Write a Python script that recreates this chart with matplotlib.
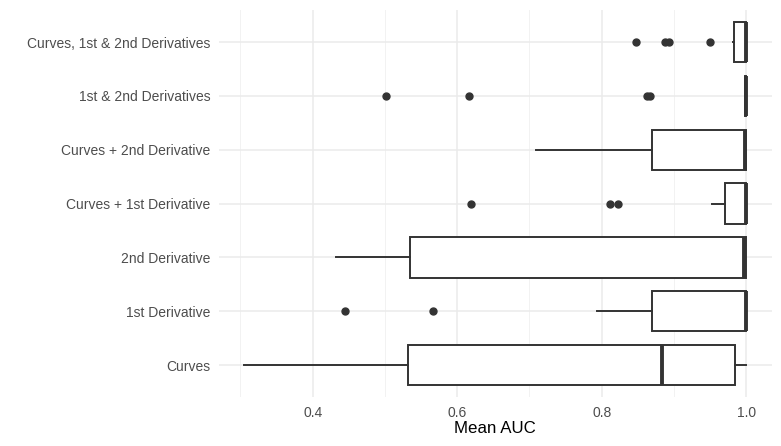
import matplotlib.pyplot as plt
import numpy as np

plt.rcParams['font.family'] = ['Liberation Sans', 'DejaVu Sans']

# categories bottom -> top
groups = ['Curves', '1st Derivative', '2nd Derivative', 'Curves + 1st Derivative',
          'Curves + 2nd Derivative', '1st & 2nd Derivatives', 'Curves, 1st & 2nd Derivatives']

# boxplot stats
whis_lo = [0.305, 0.793, 0.433, 0.952, 0.709, 0.998, 0.982]
q1 = [0.532, 0.869, 0.534, 0.971, 0.869, 0.998, 0.983]
medians = [0.884, 0.999, 0.997, 0.999, 0.998, 0.999, 0.999]
q3 = [0.984, 1.0, 1.0, 1.0, 1.0, 1.0, 1.0]
whis_hi = [1.0, 1.0, 1.0, 1.0, 1.0, 1.0, 1.0]
outliers = [
    [],
    [0.445, 0.567],
    [],
    [0.619, 0.812, 0.822],
    [],
    [0.502, 0.617, 0.862, 0.867],
    [0.848, 0.888, 0.893, 0.950],
]

xticks = [0.4, 0.6, 0.8, 1.0]
xminor = [0.3, 0.5, 0.7, 0.9]

stats = []
for i, g in enumerate(groups):
    stats.append(dict(label=g, whislo=whis_lo[i], q1=q1[i], med=medians[i],
                      q3=q3[i], whishi=whis_hi[i], fliers=outliers[i]))

fig = plt.figure(figsize=(7.81, 4.46), dpi=100)
ax = fig.add_axes([0.280, 0.109, 0.708, 0.869])

edge = '#333333'
pos = np.arange(1, len(groups) + 1)
ax.bxp(stats, positions=pos, widths=0.75, orientation='horizontal',
       showcaps=False, patch_artist=True,
       boxprops=dict(facecolor='white', edgecolor=edge, linewidth=1.4),
       whiskerprops=dict(color=edge, linewidth=1.4),
       medianprops=dict(color=edge, linewidth=2.8, solid_capstyle='butt'),
       flierprops=dict(marker='o', markersize=5, markerfacecolor=edge,
                       markeredgecolor=edge, linestyle='none'),
       zorder=3)

ax.set_xlim(0.270, 1.035)
ax.set_ylim(0.4, len(groups) + 0.6)

ax.set_xticks(xticks)
ax.set_xticklabels([f'{t:.1f}' for t in xticks])
ax.set_xticks(xminor, minor=True)
ax.set_yticks(pos)
ax.set_yticklabels(groups)

ax.grid(True, which='major', color='#EBEBEB', linewidth=1.1, zorder=0)
ax.grid(True, which='minor', axis='x', color='#F2F2F2', linewidth=0.7, zorder=0)
ax.set_axisbelow(True)

for s in ax.spines.values():
    s.set_visible(False)
ax.tick_params(which='both', length=0)
ax.tick_params(axis='x', pad=6, labelsize=10, labelcolor='#4D4D4D')
ax.tick_params(axis='y', pad=6, labelsize=10, labelcolor='#4D4D4D')

ax.set_xlabel('Mean AUC', fontsize=12.2, color='black', labelpad=1)
ax.set_ylabel('')

fig.savefig('out.png', dpi=100)
